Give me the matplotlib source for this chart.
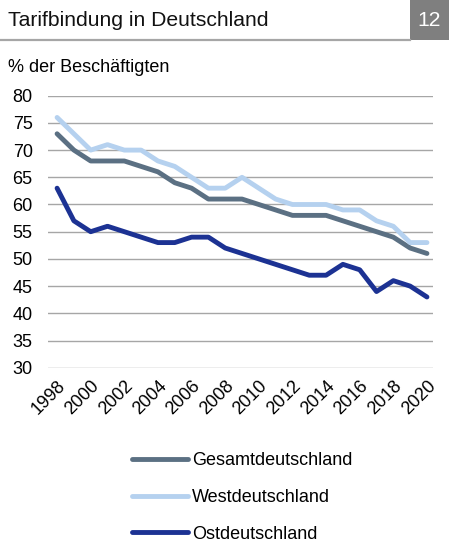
import matplotlib
matplotlib.use('Agg')
import matplotlib.pyplot as plt
from matplotlib.patches import Rectangle
from matplotlib.lines import Line2D

plt.rcParams['font.family'] = ['Liberation Sans', 'DejaVu Sans']

# Data (% der Beschäftigten)
years = list(range(1998, 2021))
gesamt = [73, 70, 68, 68, 68, 67, 66, 64, 63, 61, 61, 61, 60, 59, 58, 58, 58, 57, 56, 55, 54, 52, 51]
west   = [76, 73, 70, 71, 70, 70, 68, 67, 65, 63, 63, 65, 63, 61, 60, 60, 60, 59, 59, 57, 56, 53, 53]
ost    = [63, 57, 55, 56, 55, 54, 53, 53, 54, 54, 52, 51, 50, 49, 48, 47, 47, 49, 48, 44, 46, 45, 43]
labels = ['Gesamtdeutschland', 'Westdeutschland', 'Ostdeutschland']
colors = ['#5B7083', '#B5D1EF', '#1C3293']
xticks = list(range(1998, 2021, 2))
yticks = list(range(30, 81, 5))

W, H = 449, 543
FS = 13
fig = plt.figure(figsize=(W / 100, H / 100), dpi=100)

# ── Header ──────────────────────────────────────────
fig.text(8 / W, 1 - 20 / H, 'Tarifbindung in Deutschland', fontsize=15.2,
         va='center', ha='left', color='#111111')
fig.add_artist(Line2D([0, 410 / W], [1 - 40 / H, 1 - 40 / H], color='#A6A6A6', lw=1.6))
fig.add_artist(Rectangle((410 / W, 1 - 40 / H), 39 / W, 40 / H,
                         facecolor='#7F7F7F', edgecolor='none', transform=fig.transFigure))
fig.text(429.5 / W, 1 - 20 / H, '12', fontsize=15.2, color='white', va='center', ha='center')
fig.text(8 / W, 1 - 68 / H, '% der Beschäftigten', fontsize=FS, va='center', ha='left')

# ── Plot ────────────────────────────────────────────
ax = fig.add_axes([48 / W, 1 - 367.7 / H, 385 / W, 272 / H])
series = [gesamt, west, ost]
for vals, lab, col in zip(series, labels, colors):
    ax.plot(years, vals, color=col, lw=3.5, label=lab, solid_capstyle='round')

ax.set_ylim(30, 80)
ax.set_xlim(1997.46, 2020.36)
ax.set_yticks(yticks)
ax.set_xticks(xticks)
ax.set_xticklabels([str(y) for y in xticks], rotation=45, ha='right',
                   rotation_mode='anchor', fontsize=FS)
ax.tick_params(axis='y', labelsize=FS, length=0, pad=11)
ax.tick_params(axis='x', length=0, pad=7)
ax.grid(axis='y', color='#A6A6A6', lw=1)
ax.set_axisbelow(True)
for s in ax.spines.values():
    s.set_visible(False)

handles, labs = ax.get_legend_handles_labels()
fig.legend(handles, labs, loc='upper left', bbox_to_anchor=(132 / W, 1 - 452 / H),
           frameon=False, fontsize=FS, handlelength=3.1, handletextpad=0.22,
           labelspacing=1.1, borderaxespad=0, borderpad=0)

plt.savefig('out.png', dpi=100)
